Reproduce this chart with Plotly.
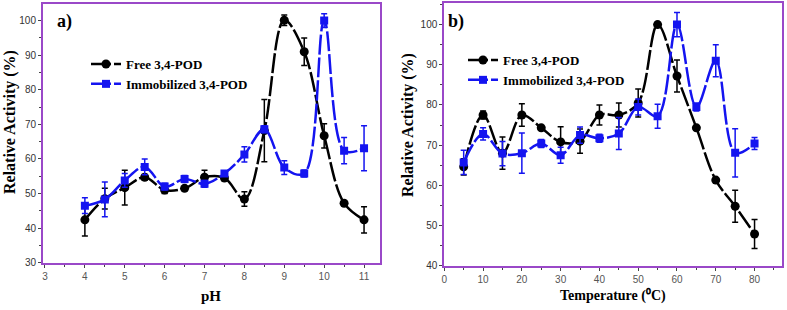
import plotly.graph_objects as go

# ---- Panel a) pH ----
ph = [4, 4.5, 5, 5.5, 6, 6.5, 7, 7.5, 8, 8.5, 9, 9.5, 10, 10.5, 11]
free_ph = [42.4, 48.5, 51.7, 54.7, 51.0, 51.5, 54.7, 54.5, 48.4, 68.2, 100.1, 91.0, 66.7, 47.2, 42.4]
free_ph_err = [4.7, 3.0, 5.0, 0.8, 1.0, 0.5, 2.0, 0.5, 2.1, 9.0, 1.5, 4.0, 3.5, 0.3, 3.8]
imm_ph = [46.5, 48.3, 53.8, 57.7, 52.0, 54.2, 52.8, 55.8, 61.3, 68.6, 57.5, 55.8, 100.0, 62.4, 63.1]
imm_ph_err = [2.3, 5.0, 2.0, 2.3, 1.0, 1.0, 1.0, 0.5, 2.2, 1.0, 2.0, 1.0, 2.0, 3.8, 6.5]

# ---- Panel b) Temperature ----
temp = [5, 10, 15, 20, 25, 30, 35, 40, 45, 50, 55, 60, 65, 70, 75, 80]
free_t = [64.6, 77.5, 68.0, 77.5, 74.3, 70.8, 71.0, 77.5, 77.5, 80.5, 100.0, 87.2, 74.3, 61.3, 54.8, 47.9]
free_t_err = [2.0, 1.0, 4.0, 2.8, 0.5, 3.8, 3.0, 2.5, 3.0, 3.5, 0.5, 4.0, 0.5, 0.5, 4.0, 3.6]
imm_t = [65.7, 72.8, 67.9, 68.0, 70.4, 67.5, 72.5, 71.7, 72.9, 79.5, 77.2, 100.0, 79.5, 91.0, 68.1, 70.4]
imm_t_err = [3.0, 1.5, 3.0, 5.0, 1.0, 2.0, 2.0, 1.0, 4.0, 2.0, 3.0, 3.0, 1.0, 4.0, 6.0, 1.5]

legend_names = ["Free 3,4-POD", "Immobilized 3,4-POD"]

BLACK = "#000000"
BLUE = "#1414f0"
PURPLE = "#9a48c8"
SERIF = "Liberation Serif"
SANS = "Liberation Sans"
DASH = "20px,3px"

fig = go.Figure()

def add_series(x, y, err, name, color, symbol, size, xa, ya, legend):
    fig.add_trace(go.Scatter(
        x=x, y=y, name=name, mode="lines+markers",
        line=dict(color=color, width=2.5, shape="spline", smoothing=1.0, dash=DASH),
        marker=dict(color=color, symbol=symbol, size=size),
        error_y=dict(type="data", array=err, visible=True, color=color, thickness=1.5, width=3),
        xaxis=xa, yaxis=ya, legend=legend,
    ))

add_series(ph, free_ph, free_ph_err, legend_names[0], BLACK, "circle", 9, "x", "y", "legend")
add_series(ph, imm_ph, imm_ph_err, legend_names[1], BLUE, "square", 8, "x", "y", "legend")
add_series(temp, free_t, free_t_err, legend_names[0], BLACK, "circle", 9, "x2", "y2", "legend2")
add_series(temp, imm_t, imm_t_err, legend_names[1], BLUE, "square", 8, "x2", "y2", "legend2")

W, H = 787, 310
def px(xp):
    return xp / W
def py(yp):
    return 1 - yp / H

axis_common = dict(
    showline=True, mirror=True, linecolor=PURPLE, linewidth=2,
    ticks="outside", ticklen=3, tickcolor="#444", tickwidth=1,
    showgrid=False, zeroline=False, automargin=False,
)
minor = dict(ticklen=2, tickcolor="#444", ticks="outside")

fig.update_layout(
    width=W, height=H,
    margin=dict(l=0, r=0, t=0, b=0, autoexpand=False),
    paper_bgcolor="white", plot_bgcolor="white",
    showlegend=True,
    xaxis=dict(domain=[px(43), px(380)], range=[2.95, 11.4], dtick=1, tick0=3,
               minor=dict(dtick=0.5, **minor),
               tickfont=dict(family=SANS, size=10, color="#555"), anchor="y", **axis_common),
    yaxis=dict(domain=[py(262.7), py(4)], range=[30, 104.8], dtick=10, tick0=30,
               minor=dict(dtick=5, **minor),
               tickfont=dict(family=SANS, size=10, color="#333"), anchor="x", **axis_common),
    xaxis2=dict(domain=[px(444.3), px(781.7)], range=[0, 87], dtick=10, tick0=0,
                minor=dict(dtick=5, **minor),
                tickfont=dict(family=SANS, size=10, color="#555"), anchor="y2", **axis_common),
    yaxis2=dict(domain=[py(265.7), py(3.3)], range=[40, 105.3], dtick=10, tick0=40,
                minor=dict(dtick=5, **minor),
                tickfont=dict(family=SANS, size=10, color="#333"), anchor="x2", **axis_common),
    legend=dict(x=px(86), y=py(49), xanchor="left", yanchor="top",
                bgcolor="rgba(0,0,0,0)", itemwidth=30, tracegroupgap=0,
                font=dict(family=SERIF, size=13, color="black", weight="bold")),
    legend2=dict(x=px(463), y=py(45), xanchor="left", yanchor="top",
                 bgcolor="rgba(0,0,0,0)", itemwidth=30, tracegroupgap=0,
                 font=dict(family=SERIF, size=13, color="black", weight="bold")),
)

def ann(text, x, y, size, angle=0):
    fig.add_annotation(text=text, x=px(x), y=py(y), xref="paper", yref="paper",
                       showarrow=False, textangle=angle, xanchor="center", yanchor="middle",
                       font=dict(family=SERIF, size=size, color="black", weight="bold"))

ann("a)", 64, 22, 18)
ann("b)", 456, 22, 18)
ann("pH", 211, 296, 15)
ann("Temperature (\u2070C)", 613, 295, 14)
ann("Relative Activity (%)", 10, 122, 16, -90)
ann("Relative Activity (%)", 408, 125, 16, -90)

fig.write_html("out.html", config={"displayModeBar": False},
               post_script="document.body.style.margin='0';document.body.style.overflow='hidden';")
